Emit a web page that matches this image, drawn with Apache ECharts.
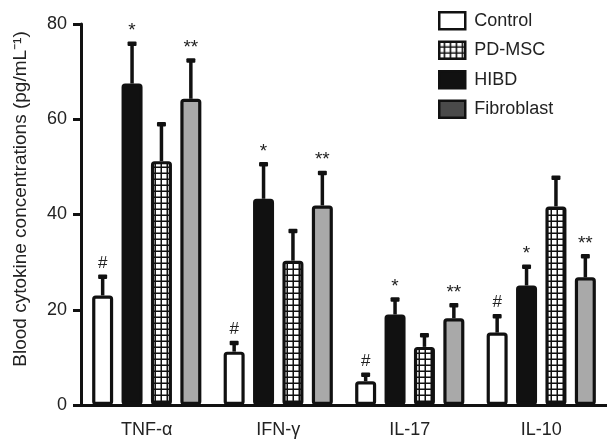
<!DOCTYPE html>
<html><head><meta charset="utf-8">
<script src="https://cdn.jsdelivr.net/npm/echarts@6/dist/echarts.min.js"></script>
<style>html,body{margin:0;padding:0;background:#fff}#c{width:607px;height:443px}</style>
</head><body><div id="c"></div>
<script>
const categories = ['TNF-\u03b1', 'IFN-\u03b3', 'IL-17', 'IL-10'];
const seriesNames = ['Control', 'HIBD', 'PD-MSC', 'Fibroblast'];
const control = [23.0, 11.2, 5.0, 15.2];
const hibd = [67.5, 43.3, 19.0, 25.1];
const pdmsc = [51.2, 30.3, 12.2, 41.7];
const fibroblast = [64.3, 41.9, 18.2, 26.8];
const controlErr = [27.2, 13.3, 6.6, 18.9];
const hibdErr = [76.1, 50.8, 22.4, 29.3];
const pdmscErr = [59.2, 36.8, 14.9, 48.0];
const fibroblastErr = [72.6, 49.0, 21.2, 31.5];
const marks = ['#', '*', '', '**'];
const yTicks = [0, 20, 40, 60, 80];

const values = [control, hibd, pdmsc, fibroblast];
const errs = [controlErr, hibdErr, pdmscErr, fibroblastErr];

// grid pattern for PD-MSC
const pc = document.createElement('canvas');
pc.width = 6; pc.height = 6;
const g = pc.getContext('2d');
g.fillStyle = '#fff'; g.fillRect(0, 0, 6, 6);
g.fillStyle = '#111';
g.fillRect(4.5, 0, 1.5, 6);
g.fillRect(0, 4.5, 6, 1.5);

const fills = ['#ffffff', '#111111', {image: pc, repeat: 'repeat'}, '#a9a9a9'];
const BW = 21, STEP = 29.4;
const offsets = [-1.5 * STEP, -0.5 * STEP, 0.5 * STEP, 1.5 * STEP];

const chart = echarts.init(document.getElementById('c'), null, {renderer: 'canvas'});
const series = [];
seriesNames.forEach((n, i) => {
  series.push({
    name: n, type: 'bar', data: values[i], barWidth: BW, barGap: '40%',
    itemStyle: {color: fills[i], borderColor: '#111', borderWidth: 3.2, borderRadius: 2},
    z: 3
  });
});
seriesNames.forEach((n, i) => {
  series.push({
    type: 'custom', name: n + ' err', silent: true, z: 2,
    data: categories.map((c, k) => [k, values[i][k], errs[i][k]]),
    renderItem: function (params, api) {
      const k = api.value(0);
      const top = api.coord([k, api.value(1)]);
      const e = api.coord([k, api.value(2)]);
      const x = top[0] + offsets[i];
      const children = [
        {type: 'line', shape: {x1: x, y1: top[1], x2: x, y2: e[1]}, style: {stroke: '#111', lineWidth: 3.5}},
        {type: 'rect', shape: {x: x - 4.5, y: e[1] - 1, width: 9, height: 4.5, r: 1}, style: {fill: '#111'}}
      ];
      if (marks[i]) {
        children.push({type: 'text', style: {text: marks[i], x: x, y: e[1] - (marks[i] === '#' ? 4 : 2),
          textAlign: 'center', textVerticalAlign: 'bottom', fill: '#222',
          font: (marks[i] === '#' ? '17px' : '19px') + ' "Liberation Sans", Arial, sans-serif'}});
      }
      return {type: 'group', children: children};
    }
  });
});

chart.setOption({
  animation: false,
  backgroundColor: '#fff',
  textStyle: {fontFamily: '"Liberation Sans", Arial, sans-serif'},
  grid: {left: 81, right: 0, top: 24, bottom: 38},
  legend: {
    orient: 'vertical', left: 433, top: 6, itemWidth: 26, itemHeight: 17, itemGap: 10, icon: 'rect',
    data: ['Control', 'PD-MSC', 'HIBD', {name: 'Fibroblast', itemStyle: {color: '#4a4a4a'}}],
    textStyle: {fontSize: 18, color: '#222', padding: [0, 0, 0, 4]},
    itemStyle: {borderColor: '#111', borderWidth: 2.5}
  },
  xAxis: {
    type: 'category', data: categories,
    axisLine: {lineStyle: {color: '#111', width: 3}},
    axisTick: {alignWithLabel: true, length: 7, lineStyle: {width: 3, color: '#111'}},
    axisLabel: {fontSize: 18, color: '#222', margin: 16}
  },
  yAxis: {
    type: 'value', min: yTicks[0], max: yTicks[yTicks.length - 1], interval: 20,
    splitLine: {show: false},
    axisLine: {show: true, lineStyle: {color: '#111', width: 3}},
    axisTick: {show: true, length: 8, lineStyle: {width: 3, color: '#111'}},
    axisLabel: {fontSize: 18, color: '#222', margin: 14}
  },
  graphic: [{
    type: 'text', x: 21, y: 199, rotation: Math.PI / 2,
    style: {text: 'Blood cytokine concentrations (pg/mL\u207B\u00B9)', textAlign: 'center', textVerticalAlign: 'middle',
      fill: '#222', font: '19px "Liberation Sans", Arial, sans-serif'}
  }],
  series: series
});
</script></body></html>
